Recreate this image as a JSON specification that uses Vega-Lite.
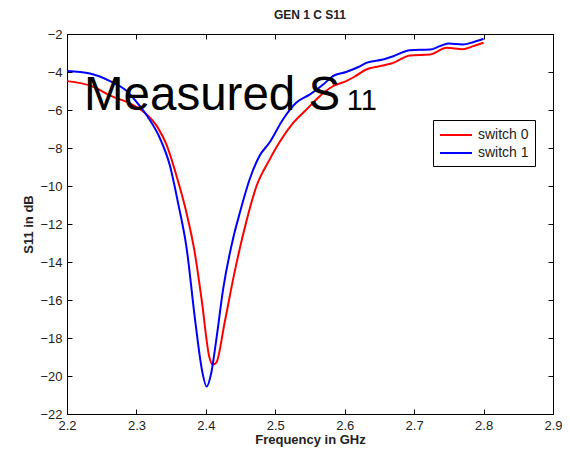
{
  "$schema": "https://vega.github.io/schema/vega-lite/v6.json",
  "width": 486,
  "height": 380,
  "autosize": {"type": "none"},
  "padding": {"left": 67, "top": 34, "right": 17, "bottom": 37},
  "background": "white",
  "title": {"text": "GEN 1 C S11", "fontSize": 12, "fontWeight": "bold", "color": "#222", "offset": 6, "anchor": "middle", "font": "Liberation Sans"},
  "config": {
    "font": "Liberation Sans",
    "view": {"stroke": "black", "strokeWidth": 1},
    "axis": {"grid": false, "domainColor": "black", "tickColor": "black", "labelColor": "#222", "labelFontSize": 13, "titleFontSize": 13, "titleFontWeight": "bold", "titleColor": "#222", "tickSize": -5, "labelFont": "Liberation Sans", "titleFont": "Liberation Sans"}
  },
  "resolve": {"axis": {"x": "independent", "y": "independent"}},
  "datasets": {
    "curves": [
      {"f": 2.200, "s": -4.48, "series": "switch 0"},
      {"f": 2.236, "s": -4.75, "series": "switch 0"},
      {"f": 2.264, "s": -5.27, "series": "switch 0"},
      {"f": 2.293, "s": -5.7, "series": "switch 0"},
      {"f": 2.312, "s": -6.15, "series": "switch 0"},
      {"f": 2.331, "s": -6.94, "series": "switch 0"},
      {"f": 2.343, "s": -7.8, "series": "switch 0"},
      {"f": 2.358, "s": -9.5, "series": "switch 0"},
      {"f": 2.372, "s": -11.4, "series": "switch 0"},
      {"f": 2.384, "s": -13.5, "series": "switch 0"},
      {"f": 2.394, "s": -16.0, "series": "switch 0"},
      {"f": 2.405, "s": -19.0, "series": "switch 0"},
      {"f": 2.410, "s": -19.4, "series": "switch 0"},
      {"f": 2.415, "s": -19.3, "series": "switch 0"},
      {"f": 2.427, "s": -17.2, "series": "switch 0"},
      {"f": 2.441, "s": -14.6, "series": "switch 0"},
      {"f": 2.454, "s": -12.5, "series": "switch 0"},
      {"f": 2.473, "s": -10.0, "series": "switch 0"},
      {"f": 2.492, "s": -8.6, "series": "switch 0"},
      {"f": 2.506, "s": -7.7, "series": "switch 0"},
      {"f": 2.526, "s": -6.67, "series": "switch 0"},
      {"f": 2.545, "s": -5.97, "series": "switch 0"},
      {"f": 2.564, "s": -5.27, "series": "switch 0"},
      {"f": 2.583, "s": -4.75, "series": "switch 0"},
      {"f": 2.602, "s": -4.48, "series": "switch 0"},
      {"f": 2.614, "s": -4.25, "series": "switch 0"},
      {"f": 2.631, "s": -3.87, "series": "switch 0"},
      {"f": 2.655, "s": -3.66, "series": "switch 0"},
      {"f": 2.670, "s": -3.52, "series": "switch 0"},
      {"f": 2.694, "s": -3.13, "series": "switch 0"},
      {"f": 2.723, "s": -3.08, "series": "switch 0"},
      {"f": 2.747, "s": -2.73, "series": "switch 0"},
      {"f": 2.770, "s": -2.8, "series": "switch 0"},
      {"f": 2.785, "s": -2.64, "series": "switch 0"},
      {"f": 2.800, "s": -2.46, "series": "switch 0"},
      {"f": 2.200, "s": -3.95, "series": "switch 1"},
      {"f": 2.233, "s": -4.08, "series": "switch 1"},
      {"f": 2.262, "s": -4.48, "series": "switch 1"},
      {"f": 2.286, "s": -5.0, "series": "switch 1"},
      {"f": 2.305, "s": -5.8, "series": "switch 1"},
      {"f": 2.317, "s": -6.4, "series": "switch 1"},
      {"f": 2.334, "s": -7.5, "series": "switch 1"},
      {"f": 2.348, "s": -8.9, "series": "switch 1"},
      {"f": 2.360, "s": -10.9, "series": "switch 1"},
      {"f": 2.372, "s": -13.2, "series": "switch 1"},
      {"f": 2.385, "s": -17.2, "series": "switch 1"},
      {"f": 2.395, "s": -19.8, "series": "switch 1"},
      {"f": 2.401, "s": -20.55, "series": "switch 1"},
      {"f": 2.408, "s": -19.8, "series": "switch 1"},
      {"f": 2.415, "s": -18.1, "series": "switch 1"},
      {"f": 2.425, "s": -15.4, "series": "switch 1"},
      {"f": 2.439, "s": -12.8, "series": "switch 1"},
      {"f": 2.449, "s": -11.4, "series": "switch 1"},
      {"f": 2.463, "s": -9.66, "series": "switch 1"},
      {"f": 2.477, "s": -8.43, "series": "switch 1"},
      {"f": 2.492, "s": -7.7, "series": "switch 1"},
      {"f": 2.511, "s": -6.5, "series": "switch 1"},
      {"f": 2.530, "s": -5.62, "series": "switch 1"},
      {"f": 2.550, "s": -5.18, "series": "switch 1"},
      {"f": 2.569, "s": -4.66, "series": "switch 1"},
      {"f": 2.583, "s": -4.22, "series": "switch 1"},
      {"f": 2.602, "s": -4.0, "series": "switch 1"},
      {"f": 2.619, "s": -3.75, "series": "switch 1"},
      {"f": 2.631, "s": -3.52, "series": "switch 1"},
      {"f": 2.655, "s": -3.34, "series": "switch 1"},
      {"f": 2.670, "s": -3.17, "series": "switch 1"},
      {"f": 2.694, "s": -2.85, "series": "switch 1"},
      {"f": 2.723, "s": -2.82, "series": "switch 1"},
      {"f": 2.737, "s": -2.64, "series": "switch 1"},
      {"f": 2.749, "s": -2.5, "series": "switch 1"},
      {"f": 2.770, "s": -2.55, "series": "switch 1"},
      {"f": 2.785, "s": -2.43, "series": "switch 1"},
      {"f": 2.800, "s": -2.25, "series": "switch 1"}
    ],
    "labels": [
      {"f": 2.2245, "s": -6.0, "text": "Measured S", "size": "big"},
      {"f": 2.603, "s": -6.0, "text": "11", "size": "small"}
    ]
  },
  "layer": [
    {
      "data": {"name": "curves"},
      "mark": {"type": "line", "strokeWidth": 2, "interpolate": "monotone"},
      "encoding": {
        "x": {"field": "f", "type": "quantitative", "scale": {"domain": [2.2, 2.9], "nice": false, "zero": false},
              "axis": {"orient": "bottom", "title": "Frequency in GHz", "values": [2.2, 2.3, 2.4, 2.5, 2.6, 2.7, 2.8, 2.9], "format": ".1f", "labelPadding": 10, "titlePadding": 1, "labelFlush": false}},
        "y": {"field": "s", "type": "quantitative", "scale": {"domain": [-22, -2], "nice": false, "zero": false},
              "axis": {"orient": "left", "title": "S11 in dB", "values": [-22, -20, -18, -16, -14, -12, -10, -8, -6, -4, -2], "format": "d", "labelPadding": 10, "titlePadding": 4, "labelFlush": false}},
        "color": {"field": "series", "type": "nominal",
                  "scale": {"domain": ["switch 0", "switch 1"], "range": ["#ff0000", "#0000ff"]},
                  "legend": {"title": null, "orient": "none", "legendX": 366, "legendY": 86, "symbolType": "M-2,0H2", "symbolSize": 256, "symbolStrokeWidth": 2, "symbolOffset": 8, "labelFontSize": 14, "labelColor": "#222", "strokeColor": "black", "fillColor": "white", "padding": 6, "rowPadding": 2, "labelOffset": 13}}
      }
    },
    {
      "data": {"name": "labels"},
      "mark": {"type": "text", "align": "left", "baseline": "alphabetic", "color": "black", "font": "Liberation Sans"},
      "encoding": {
        "x": {"field": "f", "type": "quantitative", "axis": {"orient": "top", "labels": false, "title": null, "values": [2.2, 2.3, 2.4, 2.5, 2.6, 2.7, 2.8, 2.9]}},
        "y": {"field": "s", "type": "quantitative", "axis": {"orient": "right", "labels": false, "title": null, "values": [-22, -20, -18, -16, -14, -12, -10, -8, -6, -4, -2]}},
        "text": {"field": "text"},
        "size": {"field": "size", "type": "nominal", "scale": {"domain": ["big", "small"], "range": [47.5, 29]}, "legend": null}
      }
    }
  ]
}
